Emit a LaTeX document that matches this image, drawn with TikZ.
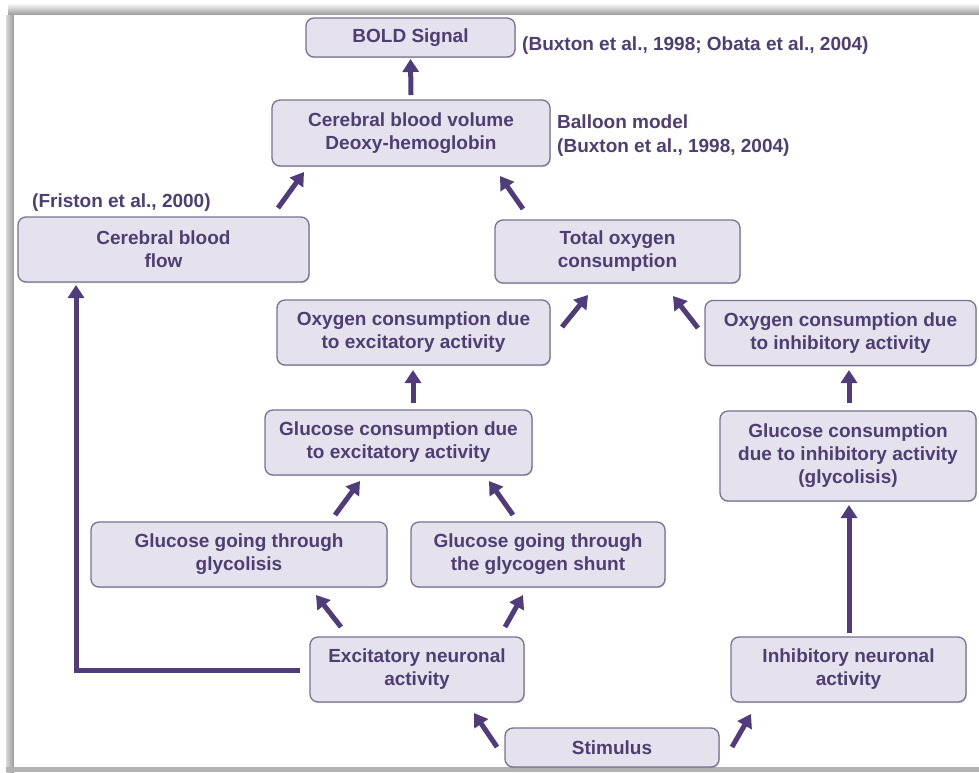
\documentclass[tikz,border=0pt]{standalone}
\usepackage{fontspec}
\setmainfont{Liberation Sans}
\usetikzlibrary{arrows.meta,shadows}
\definecolor{boxfill}{RGB}{229,226,238}
\definecolor{boxline}{RGB}{122,113,145}
\definecolor{txtc}{RGB}{78,62,114}
\definecolor{arrc}{RGB}{80,60,122}
\begin{document}
\begin{tikzpicture}[x=1pt,y=-1pt,
  box/.style={draw=boxline, line width=1.3pt, fill=boxfill, rounded corners=8pt,
    inner sep=0pt, align=center, text=txtc,
    font=\fontsize{19}{23}\selectfont\bfseries,
    drop shadow={shadow xshift=0.8pt, shadow yshift=-1.2pt, opacity=0.35}},
  lbl/.style={text=txtc, inner sep=0pt, font=\fontsize{19}{23}\selectfont\bfseries},
  conn/.style={draw=arrc, line width=5pt, -{Triangle[length=13pt,width=16pt]}}]
\useasboundingbox (0,0) rectangle (979,772);
% frame with shadow
\fill[white] (0,0) rectangle (979,772);
\shade[top color=white, bottom color=black!40] (8,3) rectangle (979,15);
\shade[left color=black!15, right color=black!40] (6,15) rectangle (14,772);
\fill[black!30] (6,767) rectangle (979,772);
\fill[white] (14,15) rectangle (979,767);

% nodes
\node[box, minimum width=209pt, minimum height=39pt] (bold) at (410.5,37.5) {BOLD Signal};
\node[box, minimum width=278pt, minimum height=66pt] (cbv) at (411,133) {Cerebral blood volume\\Deoxy-hemoglobin};
\node[box, minimum width=291pt, minimum height=65pt] (cbf) at (163.5,249.5) {Cerebral blood\\flow};
\node[box, minimum width=245pt, minimum height=63pt] (tot) at (617.5,251.5) {Total oxygen\\consumption};
\node[box, minimum width=273pt, minimum height=65pt] (oexc) at (413.5,332.5) {Oxygen consumption due\\to excitatory activity};
\node[box, minimum width=271pt, minimum height=65pt] (oinh) at (840.5,333) {Oxygen consumption due\\to inhibitory activity};
\node[box, minimum width=267pt, minimum height=65pt] (gexc) at (398.5,442.5) {Glucose consumption due\\to excitatory activity};
\node[box, minimum width=256pt, minimum height=90pt] (ginh) at (848,456) {Glucose consumption\\due to inhibitory activity\\(glycolisis)};
\node[box, minimum width=296pt, minimum height=65pt] (glyc) at (239,554.5) {Glucose going through\\glycolisis};
\node[box, minimum width=254pt, minimum height=65pt] (shunt) at (538,554.5) {Glucose going through\\the glycogen shunt};
\node[box, minimum width=214pt, minimum height=65pt] (exc) at (417,669.5) {Excitatory neuronal\\activity};
\node[box, minimum width=235pt, minimum height=65pt] (inh) at (848.5,669.5) {Inhibitory neuronal\\activity};
\node[box, minimum width=214pt, minimum height=39pt] (stim) at (612,747.5) {Stimulus};

% labels
\node[lbl, anchor=base west] (buxA) at (522,50) {(Buxton et al., 1998; Obata et al., 2004)};
\node[lbl, anchor=base west] (balA) at (557,128) {Balloon model};
\node[lbl, anchor=base west] (balB) at (557,152) {(Buxton et al., 1998, 2004)};
\node[lbl, anchor=base west] (fris) at (32,207) {(Friston et al., 2000)};

% connectors
\draw[conn] ([shift={(0,-38)}]cbv.center) -- ([shift={(0,21.5)}]bold.center);
\draw[conn] ([shift={(114.5,-41.5)}]cbf.center) -- ([shift={(-107,39)}]cbv.center);
\draw[conn] ([shift={(-94.5,-42.5)}]tot.center) -- ([shift={(89,43)}]cbv.center);
\draw[conn] ([shift={(148.5,-5.5)}]oexc.center) -- ([shift={(-29.5,43.5)}]tot.center);
\draw[conn] ([shift={(-142.5,-5)}]oinh.center) -- ([shift={(55.5,44.5)}]tot.center);
\draw[conn] ([shift={(14.5,-39.5)}]gexc.center) -- ([shift={(-0.5,37.5)}]oexc.center);
\draw[conn] ([shift={(1,-53)}]ginh.center) -- ([shift={(8.5,37)}]oinh.center);
\draw[conn] ([shift={(96,-39.5)}]glyc.center) -- ([shift={(-38.5,38.5)}]gexc.center);
\draw[conn] ([shift={(-25,-39.5)}]shunt.center) -- ([shift={(90.5,38.5)}]gexc.center);
\draw[conn] ([shift={(-76,-42.5)}]exc.center) -- ([shift={(77,40.5)}]glyc.center);
\draw[conn] ([shift={(88,-42.5)}]exc.center) -- ([shift={(-15,40.5)}]shunt.center);
\draw[conn] ([shift={(0.5,-36.5)}]inh.center) -- ([shift={(1,49)}]ginh.center);
\draw[conn] ([shift={(-117,0.5)}]exc.center) -| ([shift={(-87.5,35.5)}]cbf.center);
\draw[conn] ([shift={(-115,-0.5)}]stim.center) -- ([shift={(57,43.5)}]exc.center);
\draw[conn] ([shift={(120,-0.5)}]stim.center) -- ([shift={(-97.5,44.5)}]inh.center);
\end{tikzpicture}
\end{document}
